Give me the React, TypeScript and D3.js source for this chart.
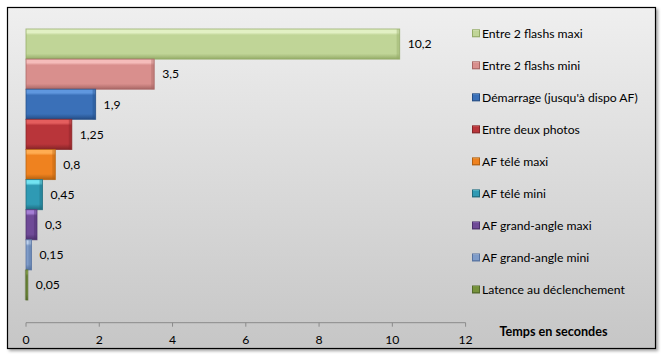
import React from "react";
import * as d3 from "d3";

const categories = [
  "Entre 2 flashs maxi",
  "Entre 2 flashs mini",
  "Démarrage (jusqu'à dispo AF)",
  "Entre deux photos",
  "AF télé maxi",
  "AF télé mini",
  "AF grand-angle maxi",
  "AF grand-angle mini",
  "Latence au déclenchement",
];
const values = [10.2, 3.5, 1.9, 1.25, 0.8, 0.45, 0.3, 0.15, 0.05];
const valueLabels = ["10,2", "3,5", "1,9", "1,25", "0,8", "0,45", "0,3", "0,15", "0,05"];
const xTicks = [0, 2, 4, 6, 8, 10, 12];
const axisTitle = "Temps en secondes";

// [highlight, base, dark]
const palette = [
  ["#e2f0c4", "#c0d597", "#94ab67"],
  ["#f5bcba", "#d98f8d", "#a86664"],
  ["#5f97de", "#3a70b8", "#244d86"],
  ["#e45e5e", "#b9353a", "#862427"],
  ["#ffad52", "#ef821f", "#b4600f"],
  ["#72e3f2", "#2f9ab4", "#1e6b7e"],
  ["#a67fd6", "#6f4a97", "#4b306c"],
  ["#bed2ee", "#7f9cc9", "#5672a0"],
  ["#a3c35c", "#76923b", "#53692a"],
];

const FONT = "Lato, 'Open Sans', sans-serif";
const FS = 12.2;

export default function App() {
  const W = 663;
  const H = 357;
  const x = d3.scaleLinear().domain([0, 12]).range([26, 465.6]);
  const y = d3.scaleBand<string>().domain(categories).range([29, 300]).paddingInner(0);
  const axisY = 322.7;
  const legendY = d3.scalePoint<string>().domain(categories).range([33.3, 289.5]);

  return (
    <svg width={W} height={H} style={{ position: "absolute", left: 0, top: 0 }}>
      <defs>
        <linearGradient id="bg" x1="0" y1="0" x2="0" y2="1">
          <stop offset="0" stopColor="#efefef" />
          <stop offset="1" stopColor="#c6c6c6" />
        </linearGradient>
        <filter id="shadow" x="-5%" y="-5%" width="110%" height="115%">
          <feDropShadow dx="2" dy="2" stdDeviation="1.5" floodColor="#000" floodOpacity="0.35" />
        </filter>
        {palette.map((p, i) => (
          <linearGradient key={i} id={`g${i}`} x1="0" y1="0" x2="0" y2="1">
            <stop offset="0" stopColor={p[0]} />
            <stop offset="0.12" stopColor={p[0]} />
            <stop offset="0.2" stopColor={p[1]} />
            <stop offset="0.82" stopColor={p[1]} />
            <stop offset="1" stopColor={p[2]} />
          </linearGradient>
        ))}
      </defs>
      <rect x={0} y={0} width={W} height={H} fill="#ffffff" />
      <rect x={7.5} y={7.5} width={648} height={341} fill="url(#bg)" stroke="#000" strokeWidth={1.2} filter="url(#shadow)" />

      {/* bars */}
      {categories.map((c, i) => {
        const y0 = y(c)!;
        const bw = x(values[i]) - x(0);
        return (
          <g key={c}>
            <rect x={x(0)} y={y0} width={bw} height={y.bandwidth()} fill={`url(#g${i})`} />
            <rect x={x(0) + bw - 3} y={y0} width={Math.min(3, bw)} height={y.bandwidth()} fill={palette[i][2]} opacity={0.4} />
            <rect x={x(0)} y={y0} width={bw} height={y.bandwidth()} fill="none" stroke={palette[i][2]} strokeOpacity={0.75} strokeWidth={1} />
            <text x={x(values[i]) + 8} y={y0 + y.bandwidth() / 2} dy="0.35em" fontFamily={FONT} fontSize={FS} fill="#000">
              {valueLabels[i]}
            </text>
          </g>
        );
      })}

      {/* x axis */}
      <line x1={x(0)} x2={x(12)} y1={axisY} y2={axisY} stroke="#8a8a8a" strokeWidth={1} />
      {xTicks.map((t) => (
        <g key={t}>
          <line x1={x(t)} x2={x(t)} y1={axisY} y2={axisY + 4} stroke="#8a8a8a" strokeWidth={1} />
          <text x={x(t)} y={340} dy="0.35em" textAnchor="middle" fontFamily={FONT} fontSize={FS} fill="#000">
            {t}
          </text>
        </g>
      ))}
      <text x={553.5} y={331.7} dy="0.35em" textAnchor="middle" fontFamily={FONT} fontSize={12.6} fontWeight="bold" fill="#000">
        {axisTitle}
      </text>

      {/* legend */}
      {categories.map((c, i) => (
        <g key={c}>
          <rect x={472.5} y={legendY(c)! - 3.5} width={7} height={7} fill={`url(#g${i})`} stroke={palette[i][2]} strokeWidth={1} />
          <text x={482} y={legendY(c)!} dy="0.35em" fontFamily={FONT} fontSize={FS} fill="#000">
            {c}
          </text>
        </g>
      ))}
    </svg>
  );
}
